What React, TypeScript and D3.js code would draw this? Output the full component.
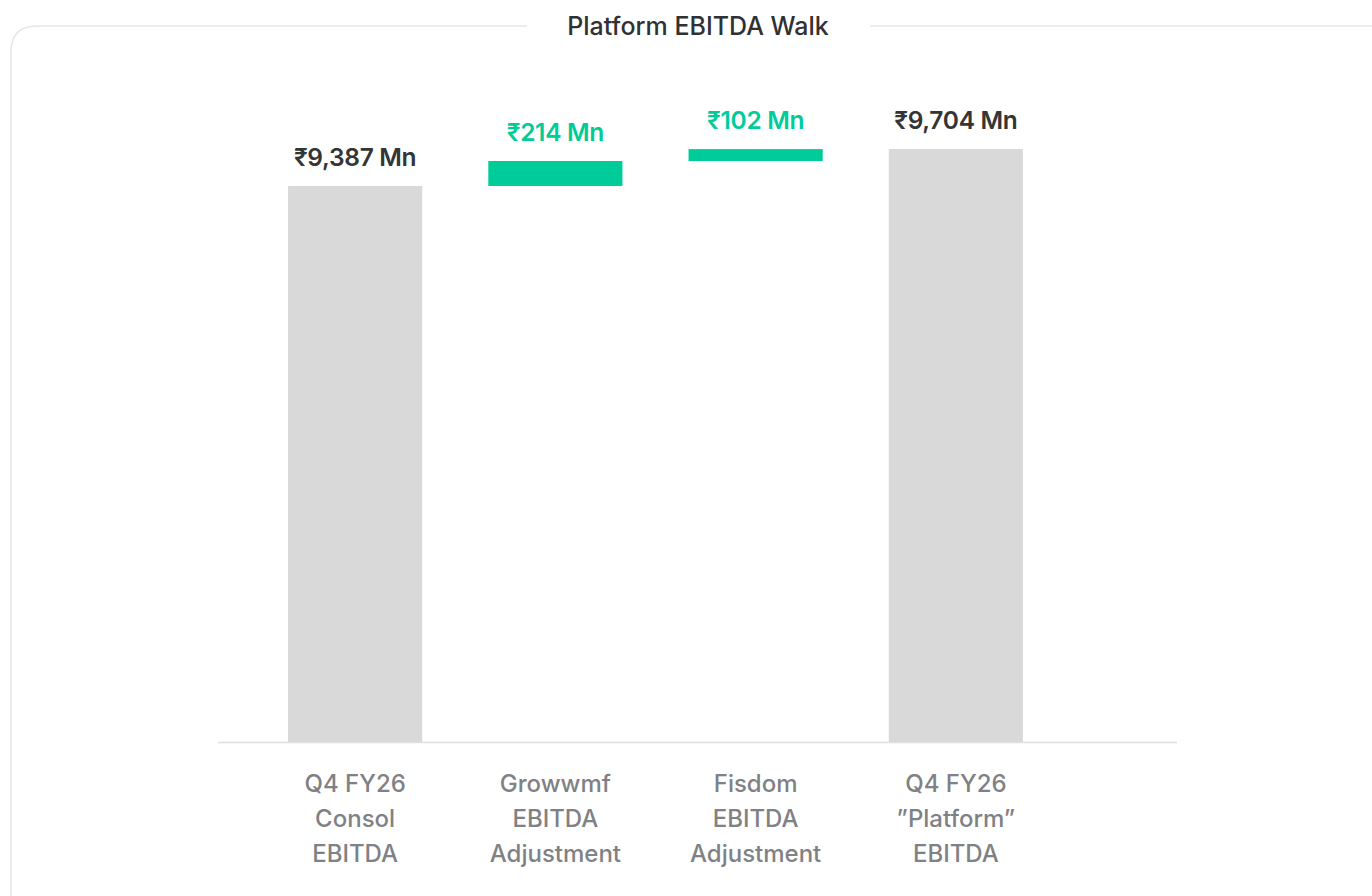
import React, { useEffect, useRef } from 'react';
import * as d3 from 'd3';

// walk steps
const categories = ['consol', 'growwmf', 'fisdom', 'platform'];
const categoryLines = [
  ['Q4 FY26', 'Consol', 'EBITDA'],
  ['Growwmf', 'EBITDA', 'Adjustment'],
  ['Fisdom', 'EBITDA', 'Adjustment'],
  ['Q4 FY26', '\u201DPlatform\u201D', 'EBITDA'],
];
const values = [9387, 214, 102, 9704];
const isTotal = [true, false, false, true];
const valueLabels = ['₹9,387 Mn', '₹214 Mn', '₹102 Mn', '₹9,704 Mn'];

const FONT = 'Inter, "Noto Sans", "DejaVu Sans", sans-serif';

function App() {
  const ref = useRef(null);

  useEffect(() => {
    const width = 1372;
    const height = 896;

    const svg = d3.select(ref.current);
    svg.selectAll('*').remove();

    // card border with a gap for the title
    const cardLeft = 11;
    const cardTop = 26;
    const r = 26;
    const gapStart = 527;
    const gapEnd = 870;
    svg.append('path')
      .attr('d', `M${gapStart},${cardTop} L${cardLeft + r},${cardTop} Q${cardLeft},${cardTop} ${cardLeft},${cardTop + r} L${cardLeft},${height + 10}`)
      .attr('fill', 'none')
      .attr('stroke', '#e6e6e6')
      .attr('stroke-width', 1.5);
    svg.append('path')
      .attr('d', `M${gapEnd},${cardTop} L${width + 40},${cardTop}`)
      .attr('fill', 'none')
      .attr('stroke', '#e6e6e6')
      .attr('stroke-width', 1.5);

    svg.append('text')
      .attr('x', 698)
      .attr('y', 35)
      .attr('text-anchor', 'middle')
      .style('font-family', FONT)
      .style('font-size', '25px')
      .style('font-weight', 500)
      .style('letter-spacing', '0px')
      .attr('fill', '#2f3133')
      .text('Platform EBITDA Walk');

    // running totals for the waterfall
    let running = 0;
    const steps = values.map((v, i) => {
      if (isTotal[i]) {
        running = v;
        return { y0: null, y1: v };
      }
      const start = running;
      running += v;
      return { y0: start, y1: running };
    });

    const x = d3.scaleBand()
      .domain(categories)
      .range([255, 1056])
      .paddingInner(0.33)
      .paddingOuter(0.165);

    // baseline is not zero in the source chart
    const y = d3.scaleLinear()
      .domain([4620, 9704])
      .range([742, 149]);

    const g = svg.append('g');

    g.selectAll('rect.bar')
      .data(steps)
      .enter()
      .append('rect')
      .attr('class', 'bar')
      .attr('x', (d, i) => x(categories[i]))
      .attr('width', x.bandwidth())
      .attr('y', d => y(d.y1))
      .attr('height', d => (d.y0 === null ? y.range()[0] : y(d.y0)) - y(d.y1))
      .attr('fill', (d, i) => isTotal[i] ? '#d9d9d9' : '#00cc9a');

    g.selectAll('text.val')
      .data(steps)
      .enter()
      .append('text')
      .attr('class', 'val')
      .attr('x', (d, i) => x(categories[i]) + x.bandwidth() / 2)
      .attr('y', d => y(d.y1) - 20)
      .attr('text-anchor', 'middle')
      .style('font-family', FONT)
      .style('font-size', '24.5px')
      .style('font-weight', 600)
      .style('letter-spacing', '-0.3px')
      .attr('fill', (d, i) => isTotal[i] ? '#333536' : '#00cc9a')
      .text((d, i) => valueLabels[i]);

    // axis line
    svg.append('line')
      .attr('x1', 218)
      .attr('x2', 1177)
      .attr('y1', 742.5)
      .attr('y2', 742.5)
      .attr('stroke', '#e0e0e0')
      .attr('stroke-width', 1.5);

    const labels = g.selectAll('text.cat')
      .data(categoryLines)
      .enter()
      .append('text')
      .attr('class', 'cat')
      .attr('text-anchor', 'middle')
      .style('font-family', FONT)
      .style('font-size', '24px')
      .style('font-weight', 500)
      .attr('fill', '#7f8184');

    labels.each(function (lines, i) {
      const cx = x(categories[i]) + x.bandwidth() / 2;
      d3.select(this)
        .selectAll('tspan')
        .data(lines)
        .enter()
        .append('tspan')
        .attr('x', cx)
        .attr('y', (l, j) => 792 + j * 35)
        .text(l => l);
    });
  }, []);

  return (
    <svg ref={ref} width={1372} height={896}
      style={{ position: 'absolute', left: 0, top: 0, background: '#fff' }} />
  );
}

export default App;
